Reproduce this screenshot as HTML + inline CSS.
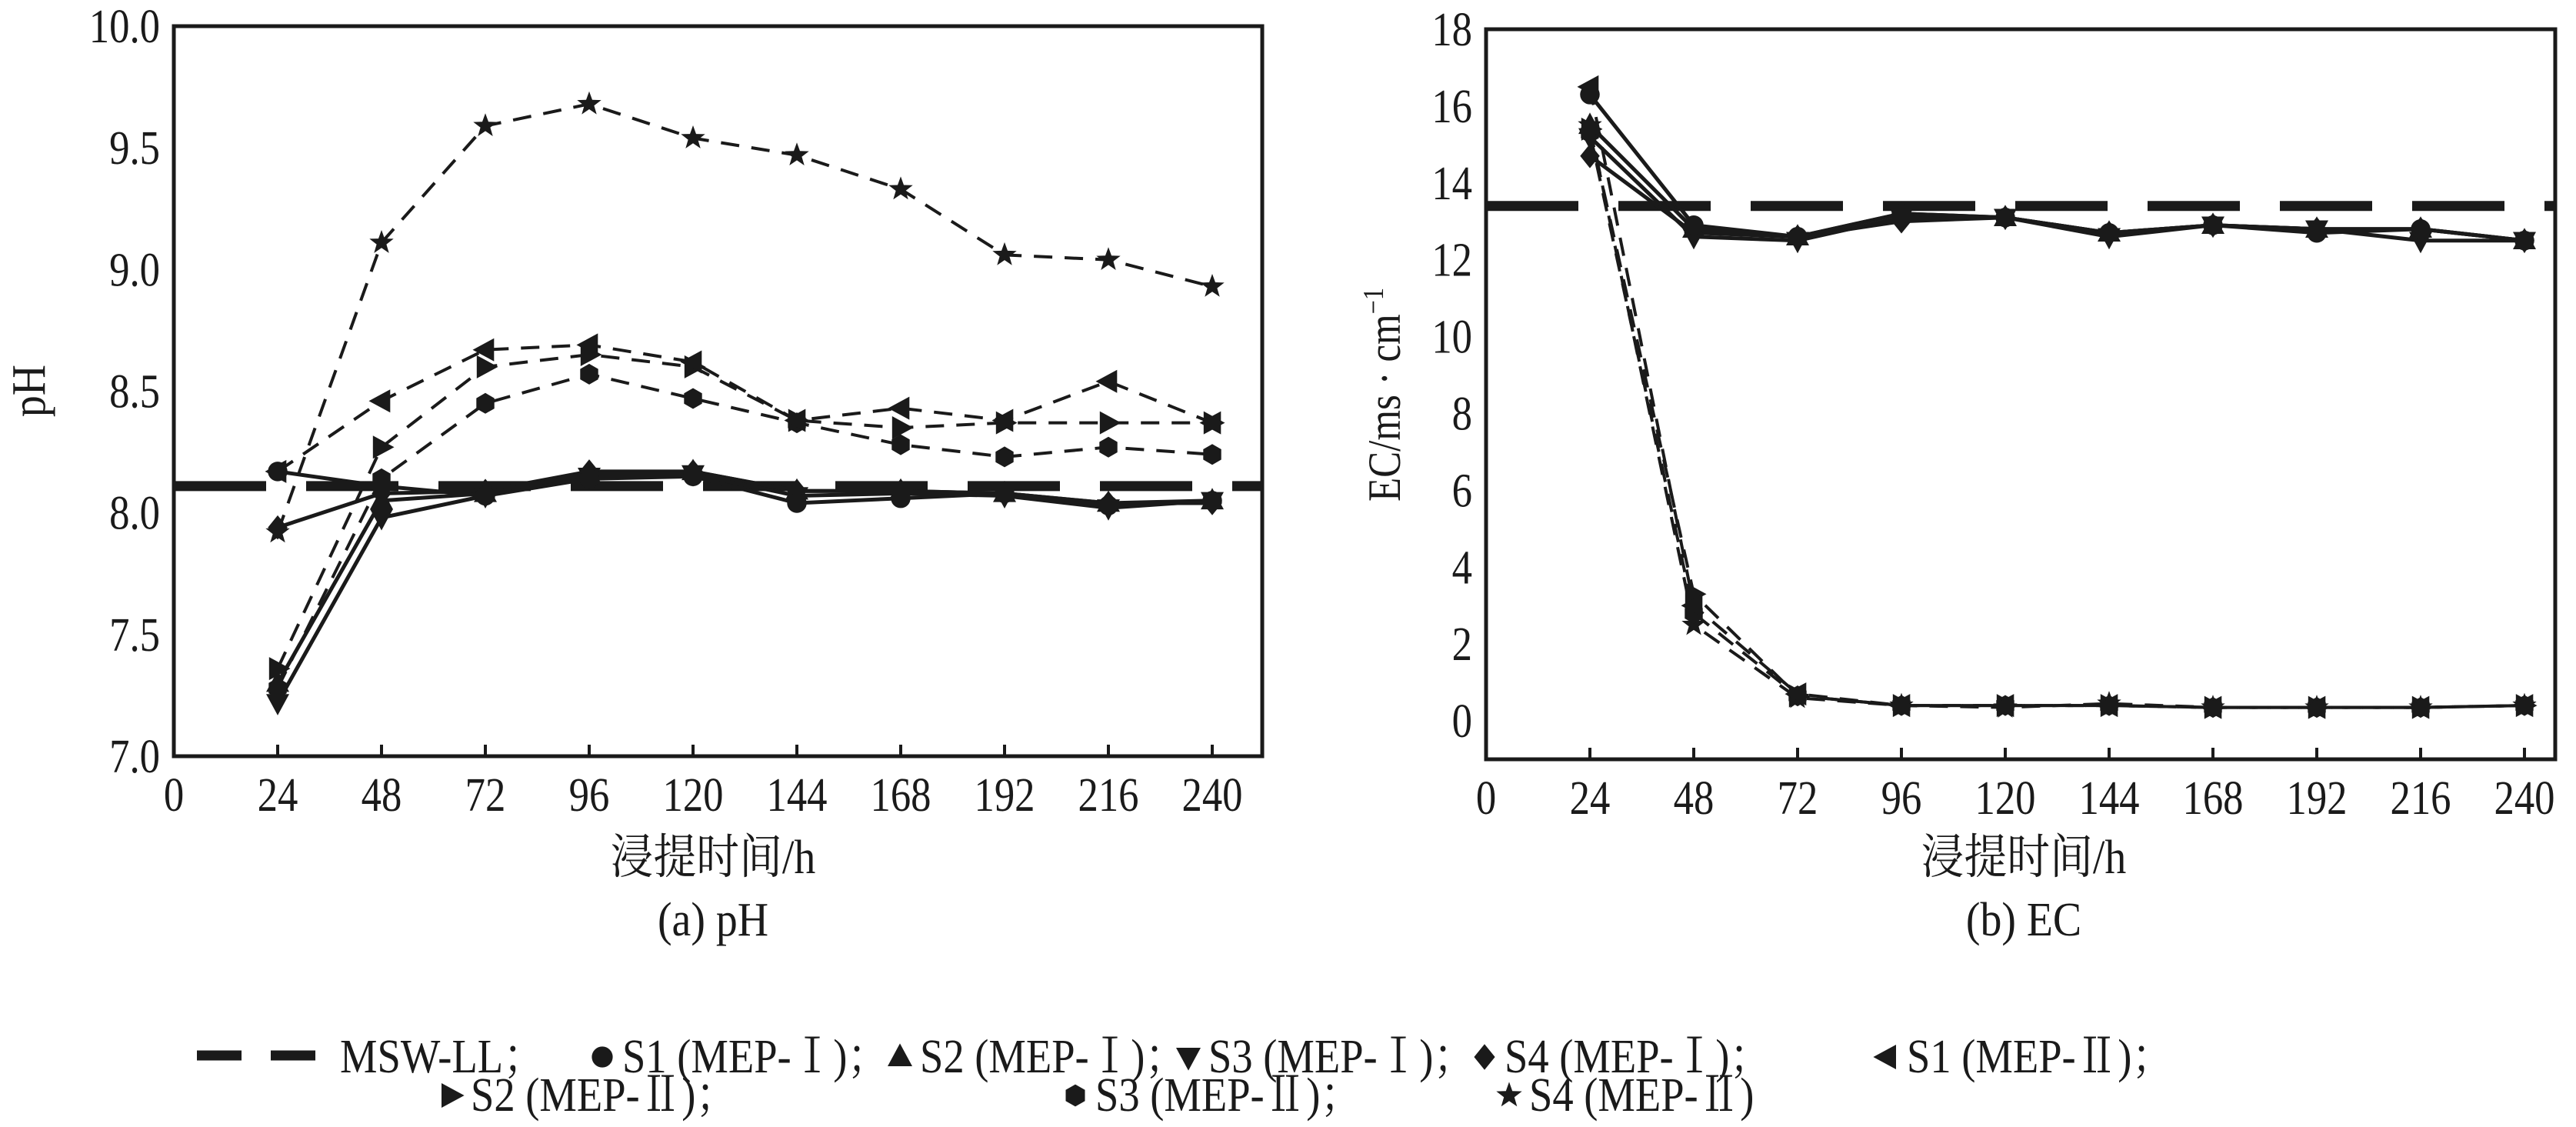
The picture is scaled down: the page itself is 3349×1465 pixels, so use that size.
<!DOCTYPE html>
<html><head><meta charset="utf-8">
<style>
html,body{margin:0;padding:0;background:#fff;}
svg{display:block;}
text{font-family:"Liberation Serif","Noto Serif CJK SC","Noto Sans CJK SC",serif;fill:#1a1a1a;}
</style></head>
<body>
<svg id="chart" width="3349" height="1465" viewBox="0 0 3349 1465" xmlns="http://www.w3.org/2000/svg">
<g id="pa"></g>
<g id="pb"></g>
<g id="legend"></g>
</svg>
<script>
const hours = [24,48,72,96,120,144,168,192,216,240];
const xTicks = [0,24,48,72,96,120,144,168,192,216,240];
const phTicks = ["7.0","7.5","8.0","8.5","9.0","9.5","10.0"];
const ecTicks = ["0","2","4","6","8","10","12","14","16","18"];
const phMSW = 8.11;
const ecMSW = 13.4;
const phS1I = [8.17,8.11,8.07,8.14,8.15,8.04,8.06,8.08,8.03,8.05];
const phS2I = [7.30,8.05,8.08,8.16,8.17,8.09,8.09,8.08,8.04,8.05];
const phS3I = [7.22,7.98,8.07,8.15,8.16,8.07,8.08,8.07,8.02,8.05];
const phS4I = [7.94,8.08,8.09,8.17,8.17,8.09,8.09,8.08,8.04,8.04];
const phS1II = [8.17,8.46,8.67,8.69,8.62,8.38,8.43,8.38,8.54,8.37];
const phS2II = [7.36,8.27,8.60,8.65,8.60,8.38,8.35,8.37,8.37,8.37];
const phS3II = [7.28,8.14,8.45,8.57,8.47,8.37,8.28,8.23,8.27,8.24];
const phS4II = [7.92,9.11,9.59,9.68,9.54,9.47,9.33,9.06,9.04,8.93];
const ecS1I = [16.3,12.9,12.6,13.2,13.1,12.7,12.9,12.7,12.8,12.5];
const ecS2I = [15.5,12.8,12.6,13.2,13.1,12.7,12.9,12.8,12.8,12.5];
const ecS3I = [15.2,12.6,12.5,13.1,13.1,12.6,12.9,12.8,12.5,12.5];
const ecS4I = [14.7,12.7,12.6,13.0,13.1,12.7,12.9,12.8,12.8,12.5];
const ecS1II = [16.5,3.0,0.7,0.4,0.4,0.4,0.35,0.35,0.35,0.4];
const ecS2II = [15.4,3.3,0.65,0.4,0.4,0.4,0.35,0.35,0.35,0.4];
const ecS3II = [15.3,2.8,0.65,0.4,0.4,0.4,0.35,0.35,0.35,0.4];
const ecS4II = [15.5,2.5,0.6,0.4,0.35,0.45,0.35,0.35,0.35,0.4];

const NS="http://www.w3.org/2000/svg";
function mk(tag,attrs,parent){const e=document.createElementNS(NS,tag);for(const k in attrs)e.setAttribute(k,attrs[k]);parent.appendChild(e);return e;}

function marker(g,type,cx,cy,r){
  let e;
  if(type==='circle'){e=mk('circle',{cx:cx,cy:cy,r:r*0.85,fill:'#1a1a1a'},g);}
  else{
    let pts=[];
    if(type==='up')pts=[[0,-1.1],[1,0.75],[-1,0.75]];
    else if(type==='down')pts=[[0,1.1],[1,-0.75],[-1,-0.75]];
    else if(type==='left')pts=[[-1.1,0],[0.75,-1],[0.75,1]];
    else if(type==='right')pts=[[1.1,0],[-0.75,-1],[-0.75,1]];
    else if(type==='diamond')pts=[[0,-1.05],[0.85,0],[0,1.05],[-0.85,0]];
    else if(type==='hex'){for(let i=0;i<6;i++){const a=Math.PI/6+i*Math.PI/3;pts.push([Math.cos(a)*0.9,Math.sin(a)*0.9]);}}
    else if(type==='star'){for(let i=0;i<10;i++){const a=-Math.PI/2+i*Math.PI/5;const rr=i%2?0.45:1.1;pts.push([Math.cos(a)*rr,Math.sin(a)*rr]);}}
    e=mk('polygon',{points:pts.map(p=>(cx+p[0]*r).toFixed(1)+','+(cy+p[1]*r).toFixed(1)).join(' '),fill:'#1a1a1a'},g);
  }
  return e;
}
function ctext(g,x,y,s,size,anchor,sx){
  const t=mk('text',{x:0,y:0,'font-size':size,'text-anchor':anchor||'middle',transform:`translate(${x},${y}) scale(${sx||0.85},1)`},g);
  t.textContent=s;return t;
}

function panel(g,cfg){
  const {left,right,top,bottom,x0,xStep,yMin,yMax,series,msw,ticks,tickVals}=cfg;
  const X=h=>x0+h/24*xStep;
  const Y=v=>bottom-(v-yMin)/(yMax-yMin)*(bottom-top);
  const box=mk('rect',{x:left,y:top,width:right-left,height:bottom-top,fill:'none',stroke:'#1a1a1a','stroke-width':5},g);
  
  
  xTicks.forEach(h=>{
    if(h>0){const tk=mk('line',{x1:X(h),x2:X(h),y1:bottom,y2:bottom-15,stroke:'#1a1a1a','stroke-width':4},g);
      
      }
    const t=ctext(g,X(h),bottom+71,String(h),62);
    
    
  });
  ticks.forEach((s,i)=>{
    const t=ctext(g,left-18,Y(tickVals[i])+21,s,62,'end');
    
    
  });
  const m=mk('line',{x1:left,x2:right,y1:Y(msw),y2:Y(msw),stroke:'#1a1a1a','stroke-width':13,'stroke-dasharray':'120 52'},g);
  
  
  series.forEach(s=>{
    const sg=mk('g',{},g);
    
    
    const pts=hours.map((h,i)=>X(h).toFixed(1)+','+Y(s.vals[i]).toFixed(1)).join(' ');
    const attrs={points:pts,fill:'none',stroke:'#1a1a1a','stroke-width':s.dash?4:5};
    if(s.dash)attrs['stroke-dasharray']='24 16';
    mk('polyline',attrs,sg);
    hours.forEach((h,i)=>{marker(sg,s.type,X(h),Y(s.vals[i]),15);});
  });
  return {X,Y};
}
const types={S1I:'circle',S2I:'up',S3I:'down',S4I:'diamond',S1II:'left',S2II:'right',S3II:'hex',S4II:'star'};
panel(document.getElementById('pa'),{
  left:226,right:1641,top:34,bottom:983,x0:226,xStep:135,yMin:7,yMax:10,msw:phMSW,
  ticks:phTicks,tickVals:[7,7.5,8,8.5,9,9.5,10],
  series:[
    {name:'ph-s4-mep2',vals:phS4II,type:'star',dash:true},
    {name:'ph-s3-mep2',vals:phS3II,type:'hex',dash:true},
    {name:'ph-s2-mep2',vals:phS2II,type:'right',dash:true},
    {name:'ph-s1-mep2',vals:phS1II,type:'left',dash:true},
    {name:'ph-s4-mep1',vals:phS4I,type:'diamond'},
    {name:'ph-s3-mep1',vals:phS3I,type:'down'},
    {name:'ph-s2-mep1',vals:phS2I,type:'up'},
    {name:'ph-s1-mep1',vals:phS1I,type:'circle'}
  ]});
panel(document.getElementById('pb'),{
  left:1932,right:3322,top:38,bottom:987,x0:1932,xStep:135,yMin:-1,yMax:18,msw:ecMSW,
  ticks:ecTicks,tickVals:[0,2,4,6,8,10,12,14,16,18],
  series:[
    {name:'ec-s4-mep2',vals:ecS4II,type:'star',dash:true},
    {name:'ec-s3-mep2',vals:ecS3II,type:'hex',dash:true},
    {name:'ec-s2-mep2',vals:ecS2II,type:'right',dash:true},
    {name:'ec-s1-mep2',vals:ecS1II,type:'left',dash:true},
    {name:'ec-s4-mep1',vals:ecS4I,type:'diamond'},
    {name:'ec-s3-mep1',vals:ecS3I,type:'down'},
    {name:'ec-s2-mep1',vals:ecS2I,type:'up'},
    {name:'ec-s1-mep1',vals:ecS1I,type:'circle'}
  ]});

const root=document.getElementById('chart');
let t;
t=ctext(root,927,1135,'浸提时间/h',62,'middle',0.9);


t=ctext(root,927,1216,'(a) pH',62,'middle',0.9);


t=ctext(root,2631,1135,'浸提时间/h',62,'middle',0.9);


t=ctext(root,2631,1216,'(b) EC',62,'middle',0.9);


t=mk('text',{x:0,y:0,'font-size':62,'text-anchor':'middle',transform:'translate(58,508) rotate(-90) scale(0.9,1)'},root);
t.textContent='pH';


t=mk('text',{x:0,y:0,'font-size':60,'text-anchor':'middle',transform:'translate(1820,513) rotate(-90) scale(0.85,1)'},root);
t.innerHTML='EC/ms · cm<tspan font-size="38" dy="-22">−1</tspan>';



const lg=document.getElementById('legend');
const dl=mk('line',{x1:256,x2:410,y1:1372,y2:1372,stroke:'#1a1a1a','stroke-width':13,'stroke-dasharray':'58 38'},lg);


const legendItems=[
  ['MSW-LL；',null,442,1394],
  ['S1 (MEP-Ⅰ)；','S1I',769,1394],
  ['S2 (MEP-Ⅰ)；','S2I',1156,1394],
  ['S3 (MEP-Ⅰ)；','S3I',1531,1394],
  ['S4 (MEP-Ⅰ)；','S4I',1916,1394],
  ['S1 (MEP-Ⅱ)；','S1II',2439,1394],
  ['S2 (MEP-Ⅱ)；','S2II',572,1444],
  ['S3 (MEP-Ⅱ)；','S3II',1384,1444],
  ['S4 (MEP-Ⅱ)','S4II',1948,1444]
];
legendItems.forEach(it=>{
  const g=mk('g',{},lg);
  
  
  let tx=it[2];
  if(it[1]){marker(g,types[it[1]],it[2]+14,it[3]-20,16);tx=it[2]+40;}
  const tt=mk('text',{x:0,y:0,'font-size':62,transform:`translate(${tx},${it[3]}) scale(0.88,1)`},g);
  tt.textContent=it[0];
});
</script>
</body></html>
